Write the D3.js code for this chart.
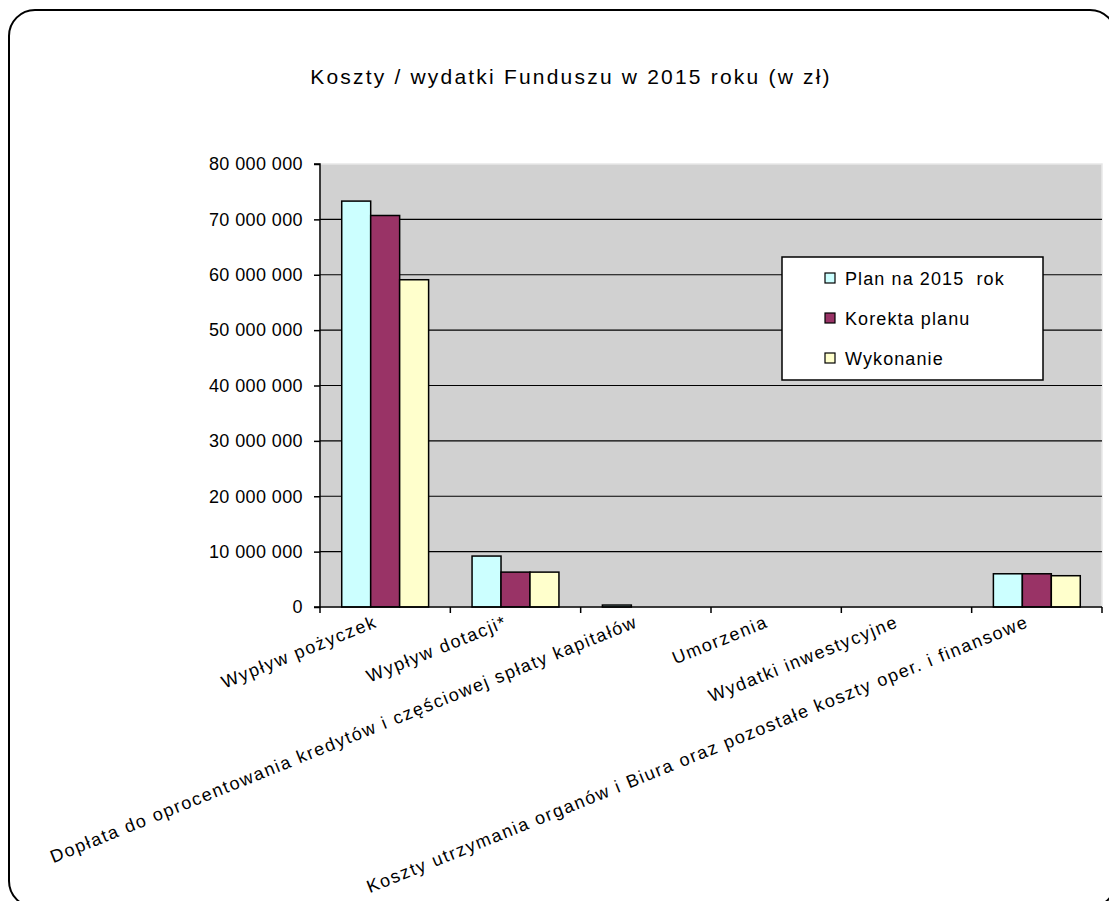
<!DOCTYPE html>
<html><head><meta charset="utf-8">
<script src="https://cdn.jsdelivr.net/npm/d3@7/dist/d3.min.js"></script>
<style>html,body{margin:0;padding:0;background:#fff;}svg{display:block;font-family:"Liberation Sans",Arial,sans-serif;}</style>
</head><body>
<script>
const categories = ["Wypływ pożyczek","Wypływ dotacji*","Dopłata do oprocentowania kredytów i częściowej spłaty kapitałów","Umorzenia","Wydatki inwestycyjne","Koszty utrzymania organów i Biura oraz pozostałe koszty oper. i finansowe"];
const seriesNames = ["Plan na 2015\u00a0 rok","Korekta planu","Wykonanie"];
const planValues = [73300000, 9200000, 350000, 0, 0, 6000000];
const korektaValues = [70700000, 6300000, 0, 0, 0, 6000000];
const wykonanieValues = [59100000, 6300000, 0, 0, 0, 5650000];
const yTicks = [0,10000000,20000000,30000000,40000000,50000000,60000000,70000000,80000000];
const colors = ["#CCFFFF","#993366","#FFFFCC"];
const title = "Koszty / wydatki Funduszu w 2015 roku (w zł)";

const W=1109,H=901;
const svg=d3.select("body").append("svg").attr("width",W).attr("height",H);
svg.append("rect").attr("x",9).attr("y",10).attr("width",1107).attr("height",897).attr("rx",26).attr("ry",26)
  .attr("fill","#fff").attr("stroke","#000").attr("stroke-width",2);

const L=320,R=1102,T=164,B=607;
svg.append("text").attr("x",571).attr("y",84).attr("text-anchor","middle").attr("font-size",21).attr("letter-spacing",2.2).text(title);

const x0=d3.scaleBand().domain(categories).range([L,R]).paddingInner(0).paddingOuter(0);
const step=x0.bandwidth();
const bw=step/4.5;
const y=d3.scaleLinear().domain([0,80000000]).range([B,T]);

svg.append("rect").attr("x",L).attr("y",T).attr("width",R-L).attr("height",B-T).attr("fill","#d1d1d1").attr("stroke","#e8e8e8").attr("stroke-width",1.5);

svg.append("g").selectAll("line").data(yTicks.filter(d=>d>0 && d<80000000)).join("line")
  .attr("x1",L).attr("x2",R).attr("y1",d=>y(d)).attr("y2",d=>y(d)).attr("stroke","#000").attr("stroke-width",1.2);

const data=[planValues,korektaValues,wykonanieValues];
const g=svg.append("g");
categories.forEach((c,i)=>{
  data.forEach((vals,s)=>{
    const v=vals[i];
    if(v<=0) return;
    const xx=x0(c)+(step-3*bw)/2+s*bw;
    g.append("rect").attr("x",xx).attr("y",y(v)).attr("width",bw).attr("height",B-y(v))
      .attr("fill",colors[s]).attr("stroke","#000").attr("stroke-width",1.5);
  });
});

// y axis
const ya=d3.axisLeft(y).tickValues(yTicks).tickSize(6).tickPadding(11)
  .tickFormat(d=>d3.format(",")(d).replace(/,/g," "));
const yg=svg.append("g").attr("transform",`translate(${L},0)`).call(ya);
yg.select(".domain").attr("stroke","#000").attr("stroke-width",1.5).attr("d",`M-6,${T}H0V${B}H-6`);
yg.selectAll(".tick line").attr("stroke","#000").attr("stroke-width",1.5);
yg.selectAll("text").attr("font-size",18).attr("letter-spacing",0.4).attr("fill","#000").attr("font-family","Liberation Sans, Arial, sans-serif");

// x axis
svg.append("line").attr("x1",L).attr("x2",R).attr("y1",B).attr("y2",B).attr("stroke","#000").attr("stroke-width",1.5);
const xt=d3.range(categories.length+1).map(i=>L+i*step);
svg.append("g").selectAll("line").data(xt).join("line").attr("x1",d=>d).attr("x2",d=>d).attr("y1",B).attr("y2",B+6).attr("stroke","#000").attr("stroke-width",1.5);

svg.append("g").selectAll("text").data(categories).join("text")
  .attr("transform",d=>`translate(${x0(d)+step/2-12},${614}) rotate(-22)`)
  .attr("text-anchor","end").attr("dy","0.75em").attr("font-size",18).attr("letter-spacing",1.6).text(d=>d);

// legend
const lg=svg.append("g");
lg.append("rect").attr("x",782).attr("y",257).attr("width",261).attr("height",123).attr("fill","#fff").attr("stroke","#000").attr("stroke-width",1.5);
seriesNames.forEach((n,i)=>{
  const yy=278+i*40;
  lg.append("rect").attr("x",825).attr("y",yy-5).attr("width",10).attr("height",10).attr("fill",colors[i]).attr("stroke","#000").attr("stroke-width",1.2);
  lg.append("text").attr("x",845).attr("y",yy+7).attr("font-size",18).attr("letter-spacing",1.1).text(n);
});
</script>
</body></html>
